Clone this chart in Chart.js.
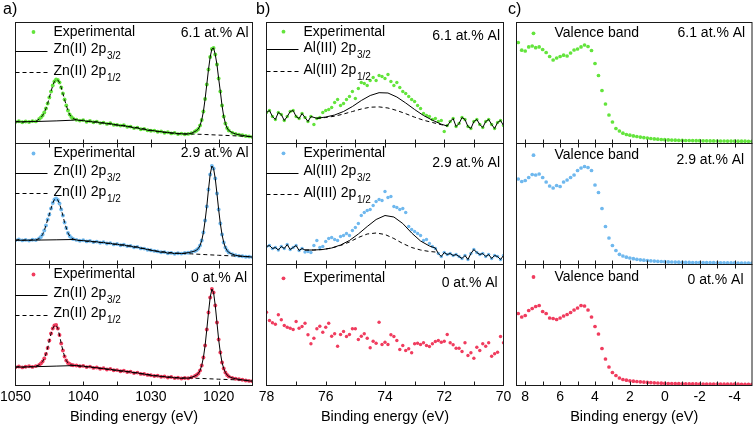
<!DOCTYPE html>
<html><head><meta charset="utf-8">
<script src="https://cdn.jsdelivr.net/npm/chart.js@4/dist/chart.umd.min.js"></script>
<style>
html,body{margin:0;padding:0;background:#fff;overflow:hidden;width:756px;height:426px}
canvas{position:absolute;left:0;top:0}
</style></head><body>
<canvas id="a0" width="756" height="426"></canvas>
<canvas id="a1" width="756" height="426"></canvas>
<canvas id="a2" width="756" height="426"></canvas>
<canvas id="b0" width="756" height="426"></canvas>
<canvas id="b1" width="756" height="426"></canvas>
<canvas id="b2" width="756" height="426"></canvas>
<canvas id="c0" width="756" height="426"></canvas>
<canvas id="c1" width="756" height="426"></canvas>
<canvas id="c2" width="756" height="426"></canvas>
<script>
// ---------- tick labels ----------
const aTickLabels = [1050, 1040, 1030, 1020];
const aTickMarks = [1045, 1040, 1035, 1030, 1025, 1020];
const bTickLabels = [78, 76, 74, 72, 70];
const bTickMarks = [77, 76, 75, 74, 73, 72, 71];
const cTickLabels = [8, 6, 4, 2, 0, -2, -4];
const cTickMarks = [8, 7, 6, 5, 4, 3, 2, 1, 0, -1, -2, -3, -4];
const sampleNotes = ['6.1 at.% Al', '2.9 at.% Al', '0 at.% Al'];

// ---------- panel a : Zn 2p ----------
const aE = [1050,1049.5,1049,1048.5,1048,1047.5,1047,
 1046.5,1046.25,1046,1045.75,1045.5,1045.25,1045,1044.75,1044.5,1044.25,1044,1043.75,1043.5,1043.25,1043,1042.75,1042.5,1042.25,1042,1041.75,1041.5,
 1041,1040.5,1040,1039.5,1039,1038.5,1038,1037.5,1037,1036.5,1036,1035.5,1035,1034.5,1034,1033.5,1033,1032.5,1032,1031.5,1031,1030.5,1030,1029.5,1029,1028.5,1028,1027.5,1027,1026.5,1026,1025.5,1025,1024.5,1024,
 1023.5,1023.25,1023,1022.75,1022.5,1022.25,1022,1021.75,1021.5,1021.25,1021,1020.75,1020.5,1020.25,1020,1019.75,1019.5,1019.25,1019,1018.75,1018.5,
 1018,1017.5,1017,1016.5,1016,1015.5,1015];
const aExp61 = [21.6,22.3,21.2,22.0,21.5,22.4,22.1,
 24.5,26,28,31,35,40,46,52,58,62,64,63.5,61,56,50,44,38,33,29,26.5,25,
 23.8,22.9,23.4,21.8,22.5,21.2,21.9,20.4,20.9,19.6,20.2,18.8,18.6,17.9,18.3,16.8,16.9,15.4,15.9,14.3,14.6,13.2,12.8,12.9,11.7,12.0,10.8,11.2,10.1,10.6,9.4,9.9,9.2,9.6,10.3,
 12,13,14.5,18,23.5,32,44.5,59,74,86.5,94.5,95.5,89,79,65,52,38,27,20,15.5,13,
 10.8,9.6,8.7,8.2,7.5,7.1,6.5];
const aExp29 = [24.2,25.0,24.1,24.6,23.9,24.8,24.5,
 26,27.5,30,34,39,45,50,56,61.5,65,66,64.5,61,55,49,42,36.5,31.5,28.5,26.5,25.5,
 24.6,23.8,24.2,23.1,23.6,22.4,22.9,21.8,22.3,21.0,21.4,20.1,20.5,19.3,19.8,18.4,18.6,17.2,17.6,16.1,15.9,14.8,14.2,13.6,13.1,12.2,12.4,11.2,11.6,10.8,11.3,10.9,11.5,11.8,12.6,
 13.5,14.5,16,19,24,32,44,58,75,90,98.5,96,86,71,55,41,30,22,17,14,12,
 10.4,9.2,8.6,8.3,7.8,7.7,7.4];
const aExp0 = [18.3,19.0,18.1,18.7,19.2,18.6,19.4,
 20.5,22,24,27,31.5,37.5,45,52,57,60,60.5,57,50.5,42,35,29,25,22.5,21.5,20.6,20.2,
 20.0,19.2,19.6,18.4,18.9,17.6,18.0,16.8,17.2,16.0,16.5,15.2,15.4,14.2,14.7,13.5,13.8,12.4,12.9,11.6,11.5,10.6,10.2,9.5,9.8,8.7,9.0,8.0,8.5,7.4,7.8,7.0,7.5,7.3,8.2,
 9.5,10.5,12,15,20,28,40,56,73,88,96.5,93,80,63,46,33,23,17,13,10.5,9,
 7.6,6.8,6.2,5.7,5.0,4.6,4.2];
// background under the 2p1/2 peak (2p3/2 fit line)
const aBaseE = [1050, 1047, 1044, 1041.5];
const a32Base61 = [21.6, 22.0, 22.6, 23.3];
const a32Base29 = [24.2, 24.4, 24.7, 25.0];
const a32Base0 = [18.3, 18.8, 19.4, 19.9];
// background under the 2p3/2 peak (2p1/2 fit line)
const aDashE = [1041, 1038, 1035, 1032, 1029, 1026, 1024, 1022, 1020, 1018, 1016, 1015];
const a12Tail61 = [23.5, 21.3, 18.5, 15.6, 12.2, 10.0, 9.5, 9.0, 8.4, 7.8, 7.1, 6.8];
const a12Tail29 = [24.4, 22.6, 20.2, 17.4, 13.2, 11.2, 10.6, 9.9, 9.2, 8.6, 8.0, 7.7];
const a12Tail0 = [20.0, 17.8, 15.2, 12.6, 9.6, 7.7, 7.4, 6.9, 6.3, 5.8, 5.3, 5.0];

// ---------- panel b : Al 2p ----------
const bE = [78.0,77.9,77.8,77.7,77.6,77.5,77.4,77.3,77.2,77.1,
 77.0,76.9,76.8,76.7,76.6,76.5,76.4,76.3,76.2,76.1,
 76.0,75.9,75.8,75.7,75.6,75.5,75.4,75.3,75.2,75.1,
 75.0,74.9,74.8,74.7,74.6,74.5,74.4,74.3,74.2,74.1,
 74.0,73.9,73.8,73.7,73.6,73.5,73.4,73.3,73.2,73.1,
 73.0,72.9,72.8,72.7,72.6,72.5,72.4,72.3,72.2,72.1,
 72.0,71.9,71.8,71.7,71.6,71.5,71.4,71.3,71.2,71.1,
 71.0,70.9,70.8,70.7,70.6,70.5,70.4,70.3,70.2,70.1,70.0];
const bExp61 = [31,33,27,24,31,29,23,27,32,33,
 27,25,30,26,22,27,19,25,26,31,
 33,34,36,41,44,38,40,44,47,52,
 45,55,61,60,58,63,66,63,68,67,
 65,69,62,58,61,56,52,50,47,44,
 42,38,35,30,28,27,24,25,22,23,
 12,18,22,25,17,20,26,24,17,15,
 22,24,19,16,22,24,19,15,21,23,18];
const bExp29 = [18,19,16,17,14.5,18,16,20,15,17,
 19,14,16,12.5,13,12,19,24,17,18,
 23,26,27,25,24,28,29,31,29,34,
 37,41,49,52,54,55,59,63,65,64,
 73,67,68,58,57,55,56,52,38,35,
 33,31,29,24,25,21,18,16,11,8,
 12,10,11,9,10,8,6,9,5,11,
 15,12,10,11,8,10,6,9,8,5,9];
const bExp0 = [73.3,65,62.7,61.3,70.7,65.7,60,58.3,57.3,56,
 64,57.3,59,62.3,50.7,41.7,47.3,56.7,59.3,53.3,
 58.3,62.3,49.3,51.7,39.3,51,54,49,51,56.7,
 56.7,46,49.3,51.7,47.3,37.7,44.3,42.3,63.3,41,
 43.3,41,50.7,49,45,36,40,35,36.7,32.7,
 41.7,42.3,41,42.7,40,39,41.7,44,45,43.3,
 44.3,51,42.7,40.7,37.3,37.3,34,42.7,30,32.7,
 27.3,38.3,35,41.7,39.3,42.7,29.3,31.7,33.3,49,42.7];
const bFitE61 = [76.3,76.0,75.7,75.4,75.1,74.8,74.5,74.2,73.9,73.6,73.3,73.0,72.7,72.4,72.1,71.9];
const b32_61 = [25.2,26.5,28.5,32,37,43,48,50.8,50.5,46.5,40.5,34,28,23.3,19.3,17.5];
const b12_61 = [25.2,26,27.3,29.5,32,34.5,36.3,36.6,35.5,33,29.8,26.3,23.3,21,18.8,17.5];
const bFitE29 = [76.7,76.4,76.1,75.8,75.5,75.2,74.9,74.6,74.3,74.0,73.7,73.4,73.1,72.8,72.5,72.3];
const b32_29 = [14.5,14.5,15,16.5,19.5,24,30.5,38,45,49,47.5,41,31.5,23.5,18.5,16.5];
const b12_29 = [14.5,14.5,15,16.5,19,22.5,27,30.5,31.5,30,26,21,17,14.5,13,12.5];

// ---------- panel c : valence band ----------
const cE = [8.4,8.2,8.0,7.8,7.6,7.4,7.2,7.0,6.8,6.6,
 6.4,6.2,6.0,5.8,5.6,5.4,5.2,5.0,4.8,4.6,
 4.4,4.2,4.0,3.8,3.6,3.4,3.2,3.0,2.8,2.6,
 2.4,2.2,2.0,1.8,1.6,1.4,1.2,1.0,0.8,0.6,
 0.4,0.2,0.0,-0.2,-0.4,-0.6,-0.8,-1.0,-1.2,-1.4,
 -1.6,-1.8,-2.0,-2.2,-2.4,-2.6,-2.8,-3.0,-3.2,-3.4,
 -3.6,-3.8,-4.0,-4.2,-4.4,-4.6,-4.8,-5.0];
const cVB61 = [101,93.3,92.5,96.6,97.5,95.8,96.6,94,91,87,
 83.5,85.5,87,88.3,87.5,90.5,93.5,94.5,96.6,98.5,
 97,93,80,68,53,39.5,28.5,21.5,15,12.5,
 10.3,9.0,8.3,7.6,7.0,6.4,5.9,5.4,5.0,4.6,
 4.3,4.0,3.8,3.6,3.4,3.3,3.2,3.1,3.0,3.0,
 2.9,2.8,2.8,2.7,2.7,2.6,2.6,2.5,2.5,2.5,
 2.4,2.4,2.4,2.3,2.3,2.3,2.2,2.2];
const cVB29 = [85.5,83,84,87,90,89.5,90.5,87,82.5,78.5,
 76.5,79,78,82.5,84.5,87,89.5,94,96.5,98,
 97,94,79.5,72,56,38,26.5,19,14,10.2,
 8.5,7.3,6.5,5.8,5.2,4.7,4.3,4.0,3.7,3.4,
 3.2,3.0,2.8,2.6,2.5,2.4,2.3,2.2,2.1,2.1,
 2.0,2.0,1.9,1.9,1.8,1.8,1.8,1.7,1.7,1.7,
 1.6,1.6,1.6,1.5,1.5,1.5,1.5,1.5];
const cVB0 = [72,68.5,70,75,77,79,80,74,72,67.5,
 67,66,67.5,69.5,71,73,75.5,77.5,80,79.5,
 75.5,68.5,59,51.5,37,26.5,18.5,13,10,7.5,
 6,5.3,4.7,4.3,4.0,3.7,3.4,3.1,2.9,2.7,
 2.5,2.3,2.1,2.0,1.9,1.8,1.8,1.7,1.7,1.6,
 1.6,1.6,1.5,1.5,1.5,1.4,1.4,1.4,1.4,1.3,
 1.3,1.3,1.3,1.3,1.2,1.2,1.2,1.2];

// ---------- styling / layout ----------
const GREEN = '#63E43C', BLUE = '#6FB8EE', RED = '#F03C5E';
const FONT = '"Liberation Sans", Arial, sans-serif';
Chart.defaults.font.family = FONT;
Chart.defaults.color = '#000';

const COLS = [
  {left: 15.5, right: 252.5, min: 1015, max: 1050, labels: aTickLabels, marks: aTickMarks, dot: 1.95},
  {left: 266.5, right: 503.5, min: 70, max: 78, labels: bTickLabels, marks: bTickMarks, dot: 1.7},
  {left: 516.5, right: 753.5, min: -5, max: 8.5, labels: cTickLabels, marks: cTickMarks, dot: 1.85}
];
const ROWS = [{top: 22.5, bottom: 143.5}, {top: 143.5, bottom: 264.5}, {top: 264.5, bottom: 385.5}];

const pts = (xs, ys) => xs.map((x, i) => ({x: x, y: ys[i]}));
const solid = d => ({data: d, borderColor: '#000', borderWidth: 1, pointRadius: 0, showLine: true, order: 0});
const dash = d => ({data: d, borderColor: '#000', borderWidth: 1, borderDash: [4, 3], pointRadius: 0, showLine: true, order: 0});
const dots = (d, c) => ({data: d, showLine: false, pointRadius: 1.7, pointBackgroundColor: c, pointBorderColor: c, pointBorderWidth: 0, order: 1, isDots: true});

const DECOR = {};
const decor = {
  id: 'decor',
  afterDatasetsDraw(chart) {
    const o = DECOR[chart.canvas.id];
    if (!o) return;
    const ctx = chart.ctx, a = chart.chartArea, xs = chart.scales.x;
    ctx.save();
    ctx.strokeStyle = '#1a1a1a';
    ctx.lineWidth = 1;
    ctx.setLineDash([]);
    ctx.strokeRect(a.left, a.top, a.right - a.left, a.bottom - a.top);
    ctx.beginPath();
    for (const v of o.marks) {
      const x = Math.round(xs.getPixelForValue(v)) + 0.5;
      ctx.moveTo(x, a.bottom); ctx.lineTo(x, a.bottom - 4);
      if (o.topTicks) { ctx.moveTo(x, a.top); ctx.lineTo(x, a.top + 4); }
    }
    ctx.stroke();
    ctx.textAlign = 'left';
    ctx.textBaseline = 'middle';
    for (const it of o.items) {
      const y = a.top + it.dy;
      if (it.kind === 'dot') {
        ctx.fillStyle = it.color;
        ctx.beginPath(); ctx.arc(a.left + o.symX, y, 1.9, 0, Math.PI * 2); ctx.fill();
      } else {
        ctx.strokeStyle = '#000';
        ctx.setLineDash(it.kind === 'dash' ? [4, 3] : []);
        ctx.beginPath(); ctx.moveTo(a.left, Math.round(y) + 1.5); ctx.lineTo(a.left + 32, Math.round(y) + 1.5); ctx.stroke();
        ctx.setLineDash([]);
      }
      ctx.fillStyle = '#000';
      ctx.font = '14px ' + FONT;
      ctx.fillText(it.text, a.left + o.textX, y);
      if (it.sub) {
        const w = ctx.measureText(it.text).width;
        ctx.font = '10px ' + FONT;
        ctx.fillText(it.sub, a.left + o.textX + w + 0.5, y + 7);
      }
    }
    ctx.font = '14px ' + FONT;
    ctx.textAlign = 'right';
    ctx.fillStyle = '#000';
    ctx.fillText(o.note, a.right - o.noteDx, a.top + o.noteDy);
    if (o.label) {
      ctx.textAlign = 'left';
      ctx.font = '16px ' + FONT;
      ctx.fillText(o.label, o.labelX, 10);
    }
    ctx.restore();
  }
};

function makePanel(id, col, row, datasets, deco) {
  const C = COLS[col], R = ROWS[row];
  const bottom = row === 2;
  deco.marks = C.marks;
  deco.topTicks = row > 0;
  DECOR[id] = deco;
  datasets.forEach(d => { if (d.isDots) d.pointRadius = C.dot; });
  const xOpts = {
    type: 'linear', reverse: true, min: C.min, max: C.max, display: bottom,
    grid: {display: false, drawTicks: false}, border: {display: false},
    afterBuildTicks: ax => { ax.ticks = C.labels.map(v => ({value: v})); },
    ticks: {color: '#000', font: {size: 14}, padding: 3, maxRotation: 0, autoSkip: false, callback: v => String(v)},
    title: {display: true, text: 'Binding energy (eV)', color: '#000', font: {size: 14.5}, padding: {top: 0, bottom: 0}}
  };
  if (bottom) {
    xOpts.afterFit = ax => { ax.height = 426 - R.bottom; ax.paddingLeft = 0; ax.paddingRight = 0; };
  }
  new Chart(document.getElementById(id), {
    type: 'line',
    data: {datasets: datasets},
    options: {
      responsive: false, animation: false, events: [], devicePixelRatio: 1,
      layout: {padding: {left: C.left, right: 756 - C.right, top: R.top, bottom: bottom ? 0 : 426 - R.bottom}},
      scales: {
        x: xOpts,
        y: {display: false, min: 0, max: 121}
      },
      plugins: {legend: {display: false}, tooltip: {enabled: false}}
    },
    plugins: [decor]
  });
}

// ---- panel a ----
function aSets(exp, base, tail, color) {
  return [
    solid(pts(aBaseE, base).concat(pts(aE.slice(28), exp.slice(28)))),
    dash(pts(aE.slice(0, 28), exp.slice(0, 28)).concat(pts(aDashE, tail))),
    dots(pts(aE, exp), color)
  ];
}
const aItems = (c, d) => [
  {kind: 'dot', color: c, text: 'Experimental', dy: d[0]},
  {kind: 'solid', text: 'Zn(II) 2p', sub: '3/2', dy: d[1]},
  {kind: 'dash', text: 'Zn(II) 2p', sub: '1/2', dy: d[2]}
];
makePanel('a0', 0, 0, aSets(aExp61, a32Base61, a12Tail61, GREEN),
  {items: aItems(GREEN, [9.5, 27, 48.5]), symX: 18, textX: 38, note: sampleNotes[0], noteDx: 4, noteDy: 10.8, label: 'a)', labelX: 3});
makePanel('a1', 0, 1, aSets(aExp29, a32Base29, a12Tail29, BLUE),
  {items: aItems(BLUE, [10, 28, 48.5]), symX: 18, textX: 38, note: sampleNotes[1], noteDx: 4, noteDy: 10});
makePanel('a2', 0, 2, aSets(aExp0, a32Base0, a12Tail0, RED),
  {items: aItems(RED, [10, 29, 49]), symX: 18, textX: 38, note: sampleNotes[2], noteDx: 5.5, noteDy: 14});

// ---- panel b ----
function bSets(exp, fitE, f32, f12, leftEnd, rightStart, color) {
  return [
    solid(pts(bE.slice(0, leftEnd), exp.slice(0, leftEnd)).concat(pts(fitE, f32), pts(bE.slice(rightStart), exp.slice(rightStart)))),
    dash(pts(fitE, f12)),
    dots(pts(bE, exp), color)
  ];
}
const bItems = (c, d) => [
  {kind: 'dot', color: c, text: 'Experimental', dy: d[0]},
  {kind: 'solid', text: 'Al(III) 2p', sub: '3/2', dy: d[1]},
  {kind: 'dash', text: 'Al(III) 2p', sub: '1/2', dy: d[2]}
];
makePanel('b0', 1, 0, bSets(bExp61, bFitE61, b32_61, b12_61, 16, 62, GREEN),
  {items: bItems(GREEN, [9.2, 25.5, 47.5]), symX: 17, textX: 37, note: sampleNotes[0], noteDx: 3.5, noteDy: 13.2, label: 'b)', labelX: 256});
makePanel('b1', 1, 1, bSets(bExp29, bFitE29, b32_29, b12_29, 13, 58, BLUE),
  {items: bItems(BLUE, [9.8, 28, 49.5]), symX: 17, textX: 37, note: sampleNotes[1], noteDx: 3.5, noteDy: 20});
makePanel('b2', 1, 2, [dots(pts(bE, bExp0), RED)],
  {items: [{kind: 'dot', color: RED, text: 'Experimental', dy: 13.8}], symX: 17, textX: 37, note: sampleNotes[2], noteDx: 5.8, noteDy: 19});

// ---- panel c ----
makePanel('c0', 2, 0, [dots(pts(cE, cVB61), GREEN)],
  {items: [{kind: 'dot', color: GREEN, text: 'Valence band', dy: 10.8}], symX: 17, textX: 38, note: sampleNotes[0], noteDx: 6.8, noteDy: 10.8, label: 'c)', labelX: 508});
makePanel('c1', 2, 1, [dots(pts(cE, cVB29), BLUE)],
  {items: [{kind: 'dot', color: BLUE, text: 'Valence band', dy: 11.7}], symX: 17, textX: 38, note: sampleNotes[1], noteDx: 7.8, noteDy: 16.7});
makePanel('c2', 2, 2, [dots(pts(cE, cVB0), RED)],
  {items: [{kind: 'dot', color: RED, text: 'Valence band', dy: 12.5}], symX: 17, textX: 38, note: sampleNotes[2], noteDx: 8.5, noteDy: 15.8});
</script>
</body></html>
